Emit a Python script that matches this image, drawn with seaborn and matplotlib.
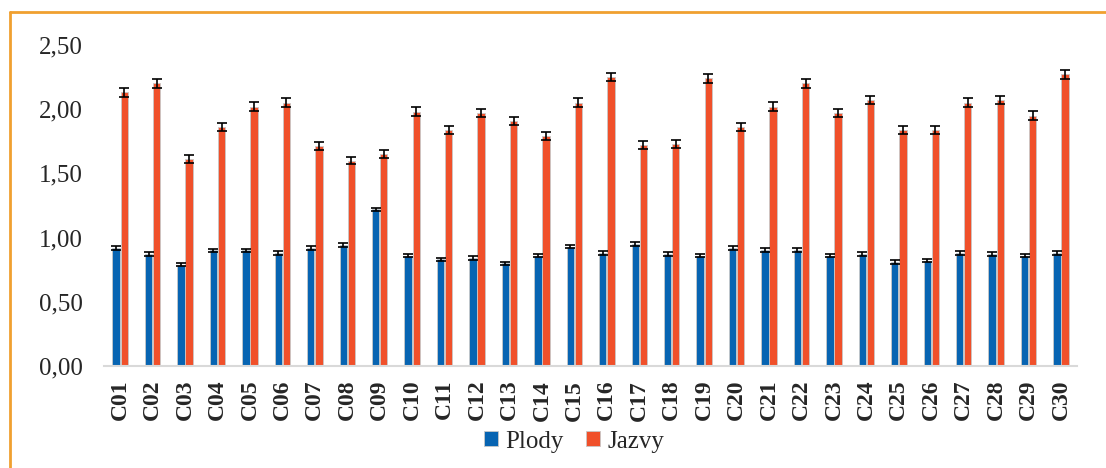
import pandas as pd
import seaborn as sns
import matplotlib.pyplot as plt
from matplotlib.lines import Line2D

cats = ['C%02d' % i for i in range(1, 31)]
plody = [0.92, 0.87, 0.79, 0.90, 0.90, 0.88, 0.92, 0.94, 1.22, 0.86,
         0.83, 0.84, 0.80, 0.86, 0.93, 0.88, 0.95, 0.87, 0.86, 0.92,
         0.90, 0.90, 0.86, 0.87, 0.81, 0.82, 0.88, 0.87, 0.86, 0.88]
jazvy = [2.13, 2.20, 1.61, 1.86, 2.02, 2.05, 1.71, 1.60, 1.65, 1.98,
         1.84, 1.97, 1.91, 1.79, 2.05, 2.25, 1.72, 1.73, 2.24, 1.86,
         2.02, 2.20, 1.97, 2.07, 1.84, 1.84, 2.05, 2.07, 1.95, 2.27]
plody_err = [0.015, 0.015, 0.013, 0.014, 0.014, 0.014, 0.015, 0.015, 0.014, 0.015,
             0.014, 0.014, 0.013, 0.014, 0.014, 0.014, 0.015, 0.014, 0.014, 0.015,
             0.015, 0.015, 0.014, 0.015, 0.014, 0.014, 0.015, 0.015, 0.014, 0.015]
jazvy_err = [0.033, 0.032, 0.031, 0.032, 0.032, 0.033, 0.032, 0.031, 0.031, 0.033,
             0.032, 0.032, 0.032, 0.032, 0.033, 0.034, 0.031, 0.032, 0.034, 0.032,
             0.033, 0.034, 0.032, 0.033, 0.032, 0.032, 0.033, 0.033, 0.032, 0.036]
series = ['Plody', 'Jazvy']
colors = ['#0764B2', '#F0502A']

df = pd.DataFrame({
    'cat': cats * 2,
    'val': plody + jazvy,
    'serie': [series[0]] * len(cats) + [series[1]] * len(cats),
})

sns.set_style('white')
plt.rcParams['font.family'] = ['Liberation Serif', 'DejaVu Serif']

fig = plt.figure(figsize=(11.06, 4.68), dpi=100)
ax = fig.add_axes([0.094, 0.218, 0.880, 0.686])

sns.barplot(data=df, x='cat', y='val', hue='serie', palette=colors,
            saturation=1, width=0.5, gap=0.1, errorbar=None, ax=ax,
            edgecolor='#C8C8C8', linewidth=0.6)

# error bars on top of the bars drawn by seaborn
for cont, errs in zip(ax.containers, [plody_err, jazvy_err]):
    xs = [b.get_x() + b.get_width() / 2 for b in cont]
    ys = [b.get_height() for b in cont]
    ax.errorbar(xs, ys, yerr=errs, fmt='none', ecolor='black',
                elinewidth=1.2, capsize=3.8, capthick=1.2, zorder=5)

ax.set_xlim(-0.5, 29.5)
ax.set_ylim(0, 2.5)
ax.set_yticks([0, 0.5, 1.0, 1.5, 2.0, 2.5])
ax.set_yticklabels(['0,00', '0,50', '1,00', '1,50', '2,00', '2,50'], fontsize=18)
ax.set_xlabel('')
ax.set_ylabel('')
ax.tick_params(axis='x', labelrotation=90, labelsize=17, pad=10, length=0)
ax.tick_params(axis='y', length=0, pad=47)
for lbl in ax.get_xticklabels():
    lbl.set_fontweight('bold')
for lbl in ax.get_yticklabels():
    lbl.set_horizontalalignment('left')

for s in ['top', 'right', 'left']:
    ax.spines[s].set_visible(False)
ax.spines['bottom'].set_color('#D9D9D9')
ax.spines['bottom'].set_linewidth(1.5)

ax.legend(loc='center', bbox_to_anchor=(0.519, 0.056), bbox_transform=fig.transFigure,
          ncol=2, frameon=False, fontsize=18, handlelength=0.55, handleheight=0.55,
          handletextpad=0.3, columnspacing=0.9)

# orange frame around the chart
fig.add_artist(Line2D([0.009, 1.0], [0.974, 0.974], color='#F0A030', lw=2))
fig.add_artist(Line2D([0.009, 0.009], [0.0, 0.974], color='#F0A030', lw=2))

fig.savefig('out.png', dpi=100)
